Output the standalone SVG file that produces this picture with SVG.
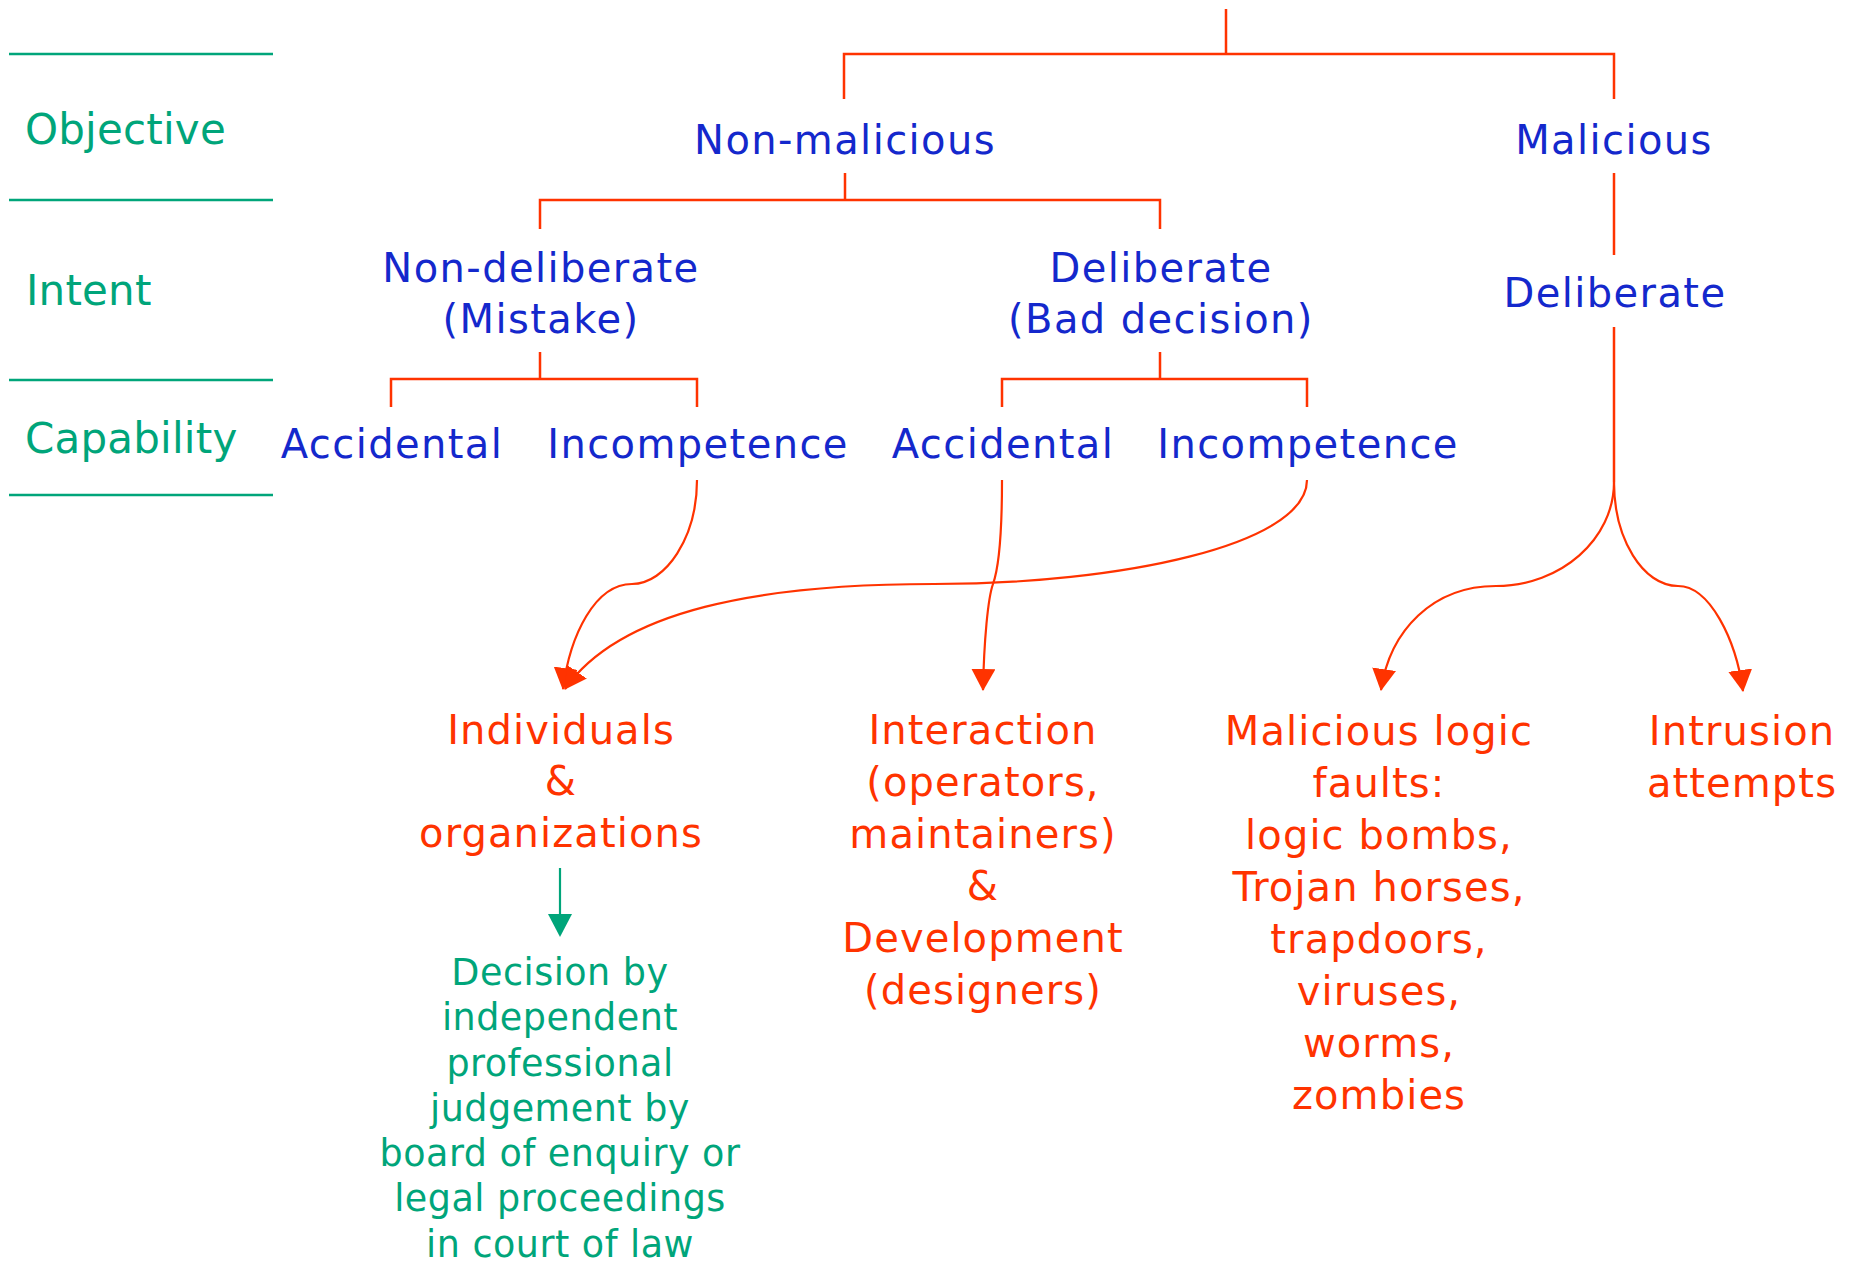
<svg xmlns="http://www.w3.org/2000/svg" width="1854" height="1271" viewBox="0 0 1854 1271">
<defs>
<style>
.t{font-family:"DejaVu Sans",Verdana,sans-serif}
.lab{font-size:42px;fill:#00A57A;letter-spacing:0.2px}
.b{font-size:40px;fill:#1428CC;letter-spacing:1.4px;text-anchor:middle}
.r{font-size:40px;fill:#FF3300;letter-spacing:1.1px;text-anchor:middle}
.g{font-size:36.5px;fill:#00A57A;letter-spacing:0.5px;text-anchor:middle}
.sep{stroke:#00A57A;stroke-width:2.5;fill:none}
.c{stroke:#FF3300;stroke-width:2.5;fill:none}
.ca{stroke:#FF3300;stroke-width:2.2;fill:none;marker-end:url(#ah)}
</style>
<marker id="ah" viewBox="0 0 22 24" refX="21" refY="12" markerWidth="22" markerHeight="24" markerUnits="userSpaceOnUse" orient="auto">
<path d="M0,0 L22,12 L0,24 z" fill="#FF3300"/>
</marker>
</defs>
<rect width="1854" height="1271" fill="#FFFFFF"/>

<g id="levels">
<line class="sep" x1="9" y1="54" x2="273" y2="54"/>
<line class="sep" x1="9" y1="200" x2="273" y2="200"/>
<line class="sep" x1="9" y1="380" x2="273" y2="380"/>
<line class="sep" x1="9" y1="495" x2="273" y2="495"/>
<text class="t lab" x="25" y="144">Objective</text>
<text class="t lab" x="26" y="305">Intent</text>
<text class="t lab" x="25" y="453">Capability</text>
</g>

<g id="connectors">
<path class="c" d="M1226,9 V54 M844,99 V54 H1614 V99"/>
<path class="c" d="M845,173 V200 M540,229 V200 H1160 V229"/>
<path class="c" d="M1614,173 V255"/>
<path class="c" d="M540,352 V379 M391,407 V379 H697 V407"/>
<path class="c" d="M1160,352 V379 M1002,407 V379 H1307 V407"/>
<path class="c" d="M1614,327 V482"/>
<path class="ca" d="M697,480 C697,537 666,584 632,584 C595,584 570,635 563,689"/>
<path class="ca" d="M1307,480 C1307,545 1120,584 934,584 C760,584 620,610 565,689"/>
<path class="ca" d="M1002,480 C1002,540 998,570 993,584 C988,598 984,640 983,690"/>
<path class="ca" d="M1614,482 C1614,539 1561,586 1496,586 C1433,586 1390,630 1381,690"/>
<path class="ca" d="M1614,482 C1614,539 1643,586 1678,586 C1710,586 1736,640 1743,691"/>
<line x1="560" y1="868" x2="560" y2="916" stroke="#00A57A" stroke-width="2.2"/>
<polygon points="548,914 572,914 560,937" fill="#00A57A"/>
</g>

<g id="n-nonmalicious"><text class="t b" x="845" y="154">Non-malicious</text></g>
<g id="n-malicious"><text class="t b" x="1614" y="154">Malicious</text></g>
<g id="n-nondeliberate"><text class="t b" x="541" y="282">Non-deliberate</text><text class="t b" x="541" y="333">(Mistake)</text></g>
<g id="n-deliberate"><text class="t b" x="1161" y="282">Deliberate</text><text class="t b" x="1161" y="333">(Bad decision)</text></g>
<g id="n-deliberate-mal"><text class="t b" x="1615" y="307">Deliberate</text></g>
<g id="n-accidental1"><text class="t b" x="392" y="458">Accidental</text></g>
<g id="n-incompetence1"><text class="t b" x="698" y="458">Incompetence</text></g>
<g id="n-accidental2"><text class="t b" x="1003" y="458">Accidental</text></g>
<g id="n-incompetence2"><text class="t b" x="1308" y="458">Incompetence</text></g>

<g id="n-individuals">
<text class="t r" x="561" y="744">Individuals</text>
<text class="t r" x="561" y="795">&amp;</text>
<text class="t r" x="561" y="847">organizations</text>
</g>
<g id="n-interaction">
<text class="t r" x="983" y="744">Interaction</text>
<text class="t r" x="983" y="796">(operators,</text>
<text class="t r" x="983" y="848">maintainers)</text>
<text class="t r" x="983" y="900">&amp;</text>
<text class="t r" x="983" y="952">Development</text>
<text class="t r" x="983" y="1004">(designers)</text>
</g>
<g id="n-maliciouslogic">
<text class="t r" x="1379" y="745">Malicious logic</text>
<text class="t r" x="1379" y="797">faults:</text>
<text class="t r" x="1379" y="849">logic bombs,</text>
<text class="t r" x="1379" y="901">Trojan horses,</text>
<text class="t r" x="1379" y="953">trapdoors,</text>
<text class="t r" x="1379" y="1005">viruses,</text>
<text class="t r" x="1379" y="1057">worms,</text>
<text class="t r" x="1379" y="1109">zombies</text>
</g>
<g id="n-intrusion">
<text class="t r" x="1742" y="745">Intrusion</text>
<text class="t r" x="1742" y="797">attempts</text>
</g>
<g id="n-decision">
<text class="t g" x="560" y="985">Decision by</text>
<text class="t g" x="560" y="1030">independent</text>
<text class="t g" x="560" y="1076">professional</text>
<text class="t g" x="560" y="1121">judgement by</text>
<text class="t g" x="560" y="1166">board of enquiry or</text>
<text class="t g" x="560" y="1211">legal proceedings</text>
<text class="t g" x="560" y="1257">in court of law</text>
</g>
</svg>
